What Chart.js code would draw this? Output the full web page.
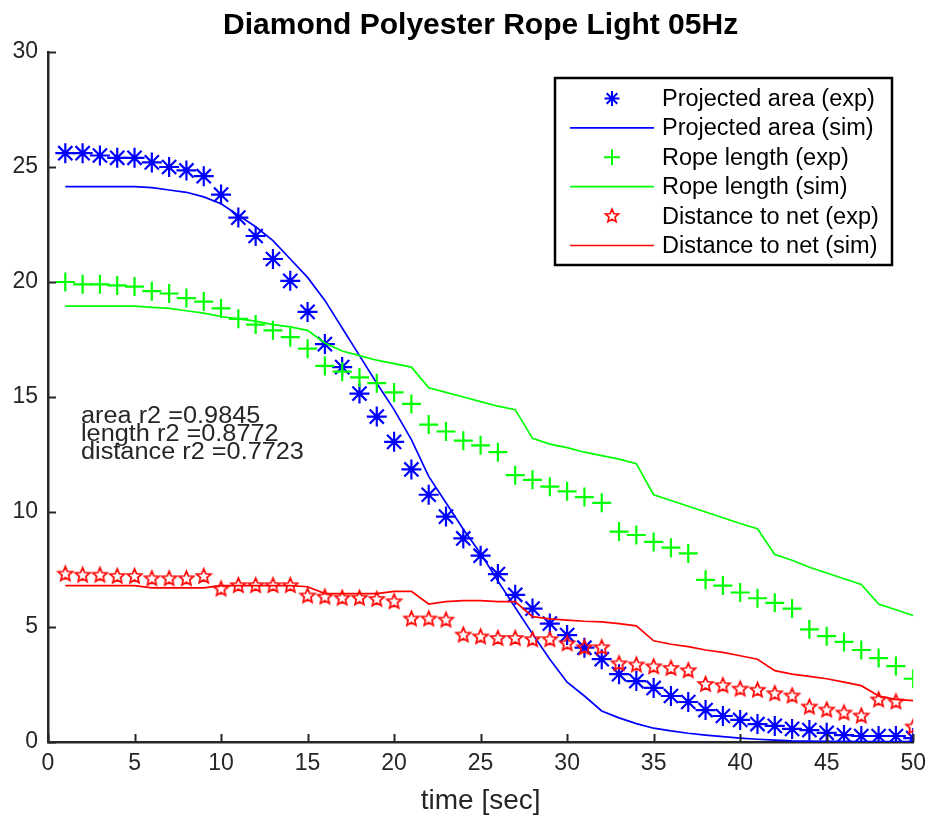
<!DOCTYPE html>
<html>
<head>
<meta charset="utf-8">
<script src="https://cdn.jsdelivr.net/npm/chart.js@4.4.0/dist/chart.umd.min.js"></script>
<style>
  html, body { margin: 0; padding: 0; background: #fff; }
</style>
</head>
<body>
<canvas id="ropeChart" width="934" height="819"></canvas>
<script>
const timeSec = [1, 2, 3, 4, 5, 6, 7, 8, 9, 10, 11, 12, 13, 14, 15, 16, 17, 18, 19, 20,
  21, 22, 23, 24, 25, 26, 27, 28, 29, 30, 31, 32, 33, 34, 35, 36, 37, 38, 39, 40,
  41, 42, 43, 44, 45, 46, 47, 48, 49, 50];

const areaExp = [25.6, 25.6, 25.5, 25.4, 25.4, 25.2, 25.0, 24.85, 24.6, 23.8,
  22.8, 22.0, 21.0, 20.05, 18.7, 17.3, 16.3, 15.15, 14.15, 13.05,
  11.85, 10.75, 9.8, 8.85, 8.1, 7.3, 6.4, 5.8, 5.15, 4.65,
  4.1, 3.6, 2.95, 2.65, 2.35, 2.0, 1.74, 1.39, 1.13, 0.96,
  0.78, 0.7, 0.57, 0.52, 0.4, 0.3, 0.26, 0.26, 0.26, 0.17];
const areaSim = [24.15, 24.15, 24.15, 24.15, 24.15, 24.1, 24.0, 23.9, 23.7, 23.4,
  22.9, 22.4, 21.8, 21.0, 20.2, 19.2, 18.0, 16.8, 15.6, 14.45,
  13.15, 11.55, 10.4, 9.25, 8.2, 7.0, 5.85, 4.7, 3.6, 2.6,
  2.0, 1.35, 1.05, 0.8, 0.6, 0.48, 0.38, 0.3, 0.23, 0.17,
  0.12, 0.08, 0.05, 0.04, 0.03, 0.03, 0.02, 0.02, 0.02, 0.02];

const lengthExp = [20.0, 19.9, 19.9, 19.85, 19.8, 19.6, 19.5, 19.3, 19.15, 18.85,
  18.4, 18.15, 17.9, 17.6, 17.1, 16.35, 16.1, 15.85, 15.6, 15.2,
  14.7, 13.8, 13.5, 13.1, 12.9, 12.6, 11.6, 11.4, 11.1, 10.9,
  10.65, 10.4, 9.15, 9.0, 8.7, 8.45, 8.2, 7.05, 6.8, 6.5,
  6.25, 6.05, 5.8, 4.9, 4.6, 4.35, 4.0, 3.65, 3.3, 2.75];
const lengthSim = [18.95, 18.95, 18.95, 18.95, 18.95, 18.9, 18.85, 18.75, 18.65, 18.5,
  18.4, 18.3, 18.15, 18.05, 17.9, 17.35, 17.0, 16.8, 16.6, 16.45,
  16.3, 15.4, 15.2, 15.0, 14.8, 14.6, 14.45, 13.2, 12.95, 12.8,
  12.6, 12.45, 12.3, 12.1, 10.75, 10.5, 10.25, 10.0, 9.75, 9.5,
  9.27, 8.15, 7.9, 7.6, 7.35, 7.1, 6.85, 6.0, 5.75, 5.5];

const distExp = [7.3, 7.25, 7.25, 7.2, 7.2, 7.1, 7.1, 7.1, 7.2, 6.65,
  6.8, 6.8, 6.8, 6.8, 6.35, 6.3, 6.25, 6.25, 6.2, 6.1,
  5.35, 5.35, 5.3, 4.65, 4.57, 4.5, 4.5, 4.45, 4.45, 4.27,
  4.1, 4.1, 3.4, 3.35, 3.27, 3.2, 3.1, 2.5, 2.45, 2.3,
  2.25, 2.1, 2.0, 1.52, 1.39, 1.26, 1.13, 1.83, 1.74, 0.65];
const distSim = [6.8, 6.8, 6.8, 6.8, 6.8, 6.7, 6.7, 6.7, 6.7, 6.8,
  6.8, 6.8, 6.8, 6.8, 6.75, 6.45, 6.45, 6.45, 6.45, 6.55,
  6.55, 6.0, 6.1, 6.15, 6.15, 6.1, 6.1, 5.45, 5.35, 5.3,
  5.25, 5.22, 5.15, 5.05, 4.4, 4.25, 4.15, 4.0, 3.9, 3.75,
  3.6, 3.1, 2.95, 2.85, 2.75, 2.6, 2.45, 2.0, 1.85, 1.8];

const xTicks = [0, 5, 10, 15, 20, 25, 30, 35, 40, 45, 50];
const yTicks = [0, 5, 10, 15, 20, 25, 30];

const seriesNames = ['Projected area (exp)', 'Projected area (sim)', 'Rope length (exp)',
  'Rope length (sim)', 'Distance to net (exp)', 'Distance to net (sim)'];
const fitNotes = ['area r2 =0.9845', 'length r2 =0.8772', 'distance r2 =0.7723'];

const BLUE = '#0000ff', GREEN = '#00ff00', RED = '#ff0000', AXIS = '#262626';
const FONT = '"Liberation Sans", Arial, Helvetica, sans-serif';

// hollow pentagram, like matlab's 'p' marker
const makeStar = (r, lw) => {
  const c = document.createElement('canvas');
  const s = Math.ceil(r * 2 + lw * 2 + 2);
  c.width = s; c.height = s;
  const g = c.getContext('2d');
  g.strokeStyle = RED; g.lineWidth = lw;
  g.beginPath();
  for (let i = 0; i < 10; i++) {
    const rr = i % 2 ? r * 0.45 : r;
    const a = -Math.PI / 2 + i * Math.PI / 5;
    const px = s / 2 + rr * Math.cos(a), py = s / 2 + rr * Math.sin(a);
    if (i) g.lineTo(px, py); else g.moveTo(px, py);
  }
  g.closePath();
  g.stroke();
  return c;
};
const starPlot = makeStar(7.6, 1.7);
const starLegend = makeStar(7, 1.6);

const pts = vals => vals.map((v, i) => ({x: timeSec[i], y: v}));

const expSet = (label, vals, color, style, radius, width, order) => ({
  label, data: pts(vals), showLine: false, pointStyle: style, pointRadius: radius,
  pointBorderColor: color, pointBackgroundColor: color, pointBorderWidth: width, order
});
const simSet = (label, vals, color, order) => ({
  label, data: pts(vals), showLine: true, borderColor: color, borderWidth: 1.7, pointRadius: 0,
  tension: 0, fill: false, order
});

const decor = {
  id: 'decor',
  afterDraw(chart) {
    const {ctx, chartArea: a, scales: {x, y}} = chart;
    ctx.save();

    // inward tick marks
    ctx.strokeStyle = AXIS; ctx.lineWidth = 2;
    ctx.beginPath();
    xTicks.forEach(v => {
      const px = Math.round(x.getPixelForValue(v)) + 0.5;
      ctx.moveTo(px, a.bottom); ctx.lineTo(px, a.bottom - 8);
    });
    yTicks.forEach(v => {
      const py = Math.round(y.getPixelForValue(v)) + 0.5;
      ctx.moveTo(a.left, py); ctx.lineTo(a.left + 8, py);
    });
    ctx.stroke();

    // title
    ctx.fillStyle = '#000';
    ctx.font = 'bold 30px ' + FONT;
    ctx.textAlign = 'center'; ctx.textBaseline = 'middle';
    ctx.fillText('Diamond Polyester Rope Light 05Hz', (a.left + a.right) / 2, 26);

    // r2 notes
    ctx.fillStyle = AXIS;
    ctx.font = '23px ' + FONT;
    ctx.textAlign = 'left'; ctx.textBaseline = 'alphabetic';
    fitNotes.forEach((t, i) => {
      ctx.save();
      ctx.translate(81, 423 + i * 17.8);
      ctx.scale(1.1, 1);
      ctx.fillText(t, 0, 0);
      ctx.restore();
    });

    // legend box
    const lx = 555, ly = 78, lw = 337, lh = 187;
    ctx.fillStyle = '#fff';
    ctx.fillRect(lx, ly, lw, lh);
    ctx.strokeStyle = '#000'; ctx.lineWidth = 2.5;
    ctx.strokeRect(lx, ly, lw, lh);
    const colors = [BLUE, BLUE, GREEN, GREEN, RED, RED];
    ctx.font = '23.5px ' + FONT;
    ctx.textBaseline = 'middle';
    seriesNames.forEach((name, i) => {
      const cy = 98.5 + i * 29.4;
      const c = colors[i];
      ctx.strokeStyle = c;
      if (i % 2) {
        ctx.lineWidth = 1.7;
        ctx.beginPath(); ctx.moveTo(570, cy); ctx.lineTo(654, cy); ctx.stroke();
      } else if (i === 0) {
        ctx.lineWidth = 2;
        const r = 7.5, d = r * Math.SQRT1_2;
        ctx.beginPath();
        ctx.moveTo(612 - r, cy); ctx.lineTo(612 + r, cy);
        ctx.moveTo(612, cy - r); ctx.lineTo(612, cy + r);
        ctx.moveTo(612 - d, cy - d); ctx.lineTo(612 + d, cy + d);
        ctx.moveTo(612 - d, cy + d); ctx.lineTo(612 + d, cy - d);
        ctx.stroke();
      } else if (i === 2) {
        ctx.lineWidth = 2;
        ctx.beginPath();
        ctx.moveTo(604, cy); ctx.lineTo(620, cy);
        ctx.moveTo(612, cy - 8); ctx.lineTo(612, cy + 8);
        ctx.stroke();
      } else {
        ctx.drawImage(starLegend, 612 - starLegend.width / 2, cy - starLegend.height / 2);
      }
      ctx.fillStyle = '#000';
      ctx.fillText(name, 662, cy + 1);
    });

    ctx.restore();
  }
};

new Chart(document.getElementById('ropeChart'), {
  type: 'scatter',
  data: {
    datasets: [
      expSet(seriesNames[0], areaExp, BLUE, 'star', 10, 2.2, 6),
      simSet(seriesNames[1], areaSim, BLUE, 5),
      expSet(seriesNames[2], lengthExp, GREEN, 'cross', 9.5, 2.2, 4),
      simSet(seriesNames[3], lengthSim, GREEN, 3),
      expSet(seriesNames[4], distExp, RED, starPlot, 7.6, 1.7, 2),
      simSet(seriesNames[5], distSim, RED, 1)
    ]
  },
  options: {
    responsive: false,
    animation: false,
    devicePixelRatio: 1,
    layout: { padding: { top: 52, right: 14, left: 0, bottom: 0 } },
    plugins: { legend: { display: false }, tooltip: { enabled: false }, title: { display: false } },
    scales: {
      x: {
        type: 'linear', min: 0, max: 50,
        afterFit: s => { s.height = 77; },
        afterBuildTicks: s => { s.ticks = xTicks.map(v => ({value: v})); },
        grid: { display: false, drawTicks: false },
        border: { display: true, color: AXIS, width: 2.5 },
        ticks: { color: AXIS, padding: 8, font: { family: FONT, size: 23 }, maxRotation: 0 },
        title: { display: true, text: 'time [sec]', color: AXIS, padding: { top: 0, bottom: 1 },
          font: { family: FONT, size: 28 } }
      },
      y: {
        type: 'linear', min: 0, max: 30,
        afterFit: s => { s.width = 48; },
        afterBuildTicks: s => { s.ticks = yTicks.map(v => ({value: v})); },
        grid: { display: false, drawTicks: false },
        border: { display: true, color: AXIS, width: 2.5 },
        ticks: { color: AXIS, padding: 10, font: { family: FONT, size: 23 } }
      }
    }
  },
  plugins: [decor]
});
</script>
</body>
</html>
